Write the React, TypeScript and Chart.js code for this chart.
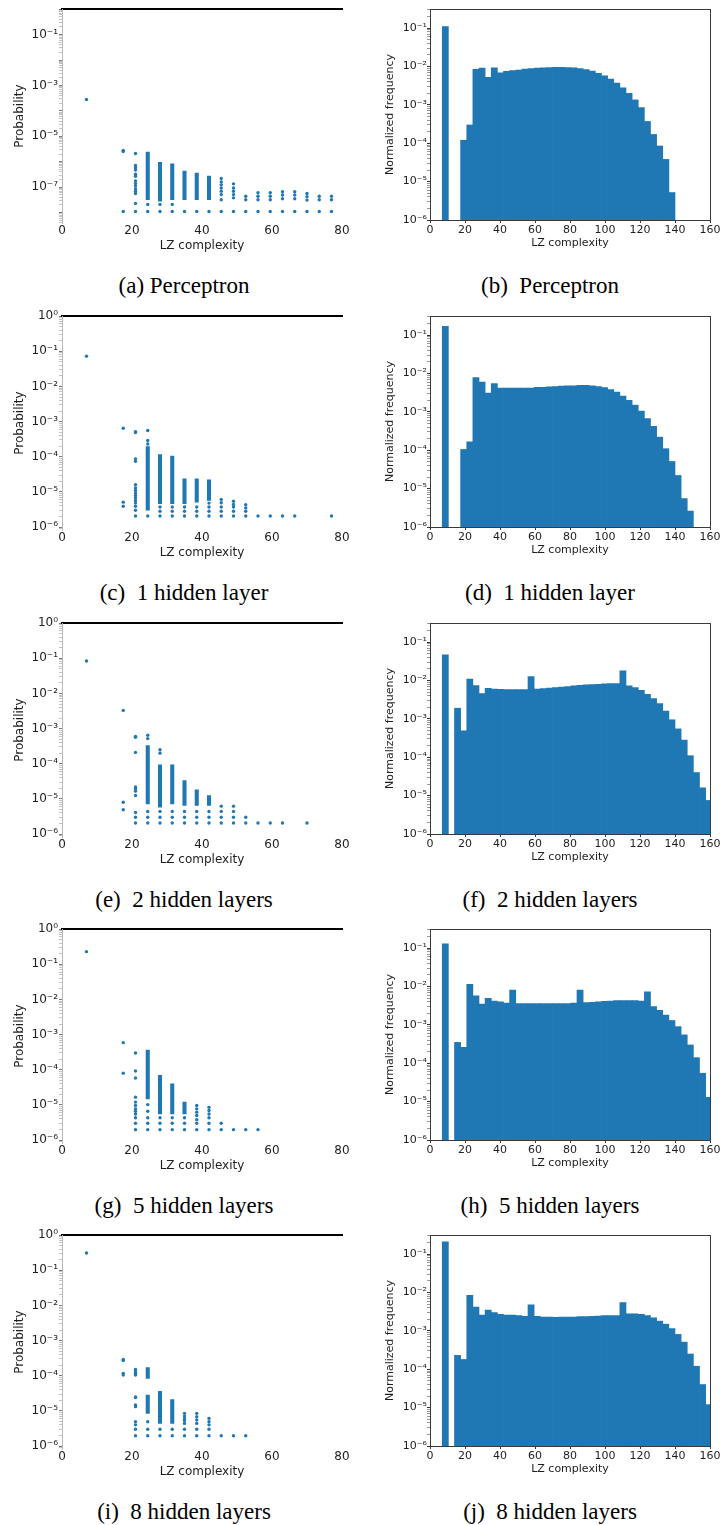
import React, { useEffect, useRef } from "react";
import { Chart, registerables } from "chart.js";

Chart.register(...registerables);

// ======================= DATA =======================
// LZ complexity values (x) of the scatter columns, probabilities per column,
// and dense vertical runs of points given as [lz, low, high].

// (a) Perceptron
const lzA = [7, 17.5, 21, 24.5, 28, 31.5, 35, 38.5, 42, 45.5, 49, 52.5, 56, 59.5, 63, 66.5, 70, 73.5, 77];
const probA = [
  [2.8e-4],
  [2.8e-6, 2.5e-6, 1.1e-8],
  [2.1e-6, 7.1e-7, 5.8e-7, 4.7e-7, 3.2e-7, 2.7e-7, 1.74e-7, 1.38e-7, 1.1e-7, 8.5e-8, 6.9e-8, 5.6e-8, 2.3e-8, 1.1e-8],
  [2.1e-8, 1.1e-8],
  [2.1e-8, 1.1e-8],
  [2.1e-8, 1.1e-8],
  [1.1e-8],
  [1.1e-8],
  [1.1e-8],
  [2.2e-7, 1.6e-7, 1.23e-7, 9.3e-8, 6.9e-8, 5.1e-8, 3.2e-8, 1.1e-8],
  [1.35e-7, 9.3e-8, 6.9e-8, 5.1e-8, 3.8e-8, 1.1e-8],
  [4.4e-8, 3.2e-8, 1.1e-8],
  [6.0e-8, 4.4e-8, 3.2e-8, 1.1e-8],
  [6.0e-8, 4.4e-8, 3.2e-8, 1.1e-8],
  [6.6e-8, 4.9e-8, 3.5e-8, 1.1e-8],
  [6.6e-8, 4.9e-8, 3.5e-8, 1.1e-8],
  [5.6e-8, 4.2e-8, 3.1e-8, 1.1e-8],
  [4.4e-8, 3.2e-8, 1.1e-8],
  [4.4e-8, 3.2e-8, 1.1e-8],
];
const rangeA = [
  [24.5, 3.2e-8, 2.4e-6],
  [28, 2.8e-8, 9.5e-7],
  [31.5, 3.2e-8, 8.3e-7],
  [35, 3.2e-8, 4.3e-7],
  [38.5, 3.2e-8, 3.6e-7],
  [42, 3.2e-8, 2.7e-7],
];

// (c) 1 hidden layer
const lzC = [7, 17.5, 21, 24.5, 28, 31.5, 35, 38.5, 42, 45.5, 49, 52.5, 56, 59.5, 63, 66.5, 77];
const probC = [
  [7.3e-2],
  [6.5e-4, 5.1e-6, 3.9e-6],
  [5.2e-4, 4.9e-4, 8.7e-5, 7.4e-5, 1.6e-5, 1.29e-5, 1.1e-5, 9.3e-6, 7.9e-6, 6.8e-6, 5.7e-6, 4.8e-6, 3.9e-6, 3.0e-6, 2.05e-6],
  [5.6e-4, 2.9e-4, 2.3e-4, 2.05e-6],
  [3.7e-6, 2.8e-6, 2.05e-6],
  [3.7e-6, 2.8e-6, 2.05e-6],
  [3.7e-6, 2.8e-6, 2.05e-6],
  [3.7e-6, 2.8e-6, 2.05e-6],
  [4.8e-6, 3.7e-6, 2.8e-6, 2.05e-6],
  [6.1e-6, 4.9e-6, 3.7e-6, 2.8e-6, 2.05e-6],
  [5.4e-6, 4.4e-6, 3.7e-6, 2.8e-6, 2.05e-6],
  [4.3e-6, 3.5e-6, 2.8e-6, 2.05e-6],
  [2.05e-6],
  [2.05e-6],
  [2.05e-6],
  [2.05e-6],
  [2.05e-6],
];
const rangeC = [
  [24.5, 3.0e-6, 1.96e-4],
  [28, 4.6e-6, 1.15e-4],
  [31.5, 4.6e-6, 1.05e-4],
  [35, 4.6e-6, 2.35e-5],
  [38.5, 5.1e-6, 2.35e-5],
  [42, 5.7e-6, 2.2e-5],
];

// (e) 2 hidden layers
const lzE = [7, 17.5, 21, 24.5, 28, 31.5, 35, 38.5, 42, 45.5, 49, 52.5, 56, 59.5, 63, 70];
const probE = [
  [8.4e-2],
  [3.3e-3, 8.0e-6, 4.9e-6],
  [6.0e-4, 5.7e-4, 2.1e-4, 2.2e-5, 1.94e-5, 1.66e-5, 1.25e-5, 4.1e-6, 3.0e-6, 2.06e-6],
  [6.5e-4, 5.2e-4, 4.4e-6, 3.0e-6, 2.06e-6],
  [2.5e-4, 2.0e-4, 4.4e-6, 3.0e-6, 2.06e-6],
  [4.4e-6, 3.0e-6, 2.06e-6],
  [4.4e-6, 3.0e-6, 2.06e-6],
  [4.4e-6, 3.0e-6, 2.06e-6],
  [4.4e-6, 3.0e-6, 2.06e-6],
  [6.2e-6, 4.4e-6, 3.0e-6, 2.06e-6],
  [6.2e-6, 4.4e-6, 3.0e-6, 2.06e-6],
  [3.0e-6, 2.06e-6],
  [2.06e-6],
  [2.06e-6],
  [2.06e-6],
  [2.06e-6],
];
const rangeE = [
  [24.5, 7.2e-6, 3.3e-4],
  [28, 5.8e-6, 9.3e-5],
  [31.5, 7.2e-6, 9.3e-5],
  [35, 6.5e-6, 3.3e-5],
  [38.5, 6.5e-6, 1.8e-5],
  [42, 6.5e-6, 1.25e-5],
];

// (g) 5 hidden layers
const lzG = [7, 17.5, 21, 24.5, 28, 31.5, 35, 38.5, 42, 45.5, 49, 52.5, 56];
const probG = [
  [0.23],
  [5.9e-4, 8.0e-5],
  [3.0e-4, 9.2e-5, 5.8e-5, 1.66e-5, 1.2e-5, 9.6e-6, 7.7e-6, 6.6e-6, 5.5e-6, 4.3e-6, 3.0e-6, 1.97e-6],
  [1.02e-5, 6.6e-6, 4.3e-6, 3.0e-6, 1.97e-6],
  [4.3e-6, 3.0e-6, 1.97e-6],
  [4.3e-6, 3.0e-6, 1.97e-6],
  [4.3e-6, 3.0e-6, 1.97e-6],
  [9.6e-6, 7.7e-6, 6.2e-6, 5.0e-6, 3.8e-6, 3.0e-6, 1.97e-6],
  [8.5e-6, 6.9e-6, 5.5e-6, 4.3e-6, 3.0e-6, 1.97e-6],
  [3.0e-6, 1.97e-6],
  [1.97e-6],
  [1.97e-6],
  [1.97e-6],
];
const rangeG = [
  [24.5, 1.48e-5, 3.6e-4],
  [28, 5.5e-6, 6.9e-5],
  [31.5, 5.5e-6, 4.0e-5],
  [35, 5.5e-6, 1.2e-5],
];

// (i) 8 hidden layers
const lzI = [7, 17.5, 21, 24.5, 28, 31.5, 35, 38.5, 42, 45.5, 49, 52.5];
const probI = [
  [0.31],
  [2.9e-4, 2.7e-4, 1.17e-4, 1.05e-4],
  [1.5e-4, 1.3e-4, 1.17e-4, 1.05e-4, 2.5e-5, 2.4e-5, 1.47e-5, 1.32e-5, 4.9e-6, 4.0e-6, 3.0e-6, 1.96e-6],
  [4.9e-6, 3.0e-6, 1.96e-6],
  [3.0e-6, 1.96e-6],
  [3.0e-6, 1.96e-6],
  [8.5e-6, 7.1e-6, 6.1e-6, 5.3e-6, 4.4e-6, 3.0e-6, 1.96e-6],
  [8.5e-6, 6.8e-6, 5.5e-6, 4.4e-6, 3.0e-6, 1.96e-6],
  [6.1e-6, 4.9e-6, 4.0e-6, 3.0e-6, 1.96e-6],
  [1.96e-6],
  [1.96e-6],
  [1.96e-6],
];
const rangeI = [
  [24.5, 8.4e-5, 1.7e-4],
  [24.5, 8.5e-6, 2.8e-5],
  [28, 4.4e-6, 3.6e-5],
  [31.5, 4.4e-6, 2.1e-5],
];

// Histograms: bins of width 3.5 in LZ complexity.
const BIN = 3.5;
const PEAK_BIN_START = 7; // the isolated lowest-complexity bin

// (b) Perceptron
const peakB = 0.11;
const histStartB = 17.5;
const histB = [
  1.2e-4, 3.0e-4, 8.5e-3, 9.1e-3, 5.2e-3, 9.3e-3, 6.9e-3, 7.5e-3, 7.9e-3, 8.1e-3,
  8.6e-3, 8.9e-3, 9.1e-3, 9.3e-3, 9.4e-3, 9.5e-3, 9.5e-3, 9.4e-3, 9.2e-3, 8.8e-3,
  8.3e-3, 7.6e-3, 6.7e-3, 5.7e-3, 4.7e-3, 3.7e-3, 2.8e-3, 2.0e-3, 1.35e-3, 8.5e-4,
  3.7e-4, 1.7e-4, 8.5e-5, 3.8e-5, 5.2e-6,
];

// (d) 1 hidden layer
const peakD = 0.17;
const histStartD = 17.5;
const histD = [
  1.05e-4, 1.66e-4, 7.9e-3, 6.0e-3, 3.1e-3, 5.5e-3, 4.2e-3, 4.2e-3, 4.2e-3, 4.2e-3,
  4.2e-3, 4.2e-3, 4.4e-3, 4.4e-3, 4.5e-3, 4.6e-3, 4.7e-3, 4.8e-3, 4.8e-3, 4.9e-3,
  4.9e-3, 4.8e-3, 4.6e-3, 4.3e-3, 3.8e-3, 3.3e-3, 2.6e-3, 2.0e-3, 1.5e-3, 1.05e-3,
  6.7e-4, 4.2e-4, 2.2e-4, 1.1e-4, 5.1e-5, 2.2e-5, 5.5e-6, 2.6e-6,
];

// (f) 2 hidden layers
const peakF = 0.047;
const histStartF = 14;
const histF = [
  1.9e-3, 4.9e-4, 1.1e-2, 7.4e-3, 4.6e-3, 6.3e-3, 6.0e-3, 5.9e-3, 5.8e-3, 5.8e-3,
  5.8e-3, 5.8e-3, 1.26e-2, 6.0e-3, 6.2e-3, 6.4e-3, 6.6e-3, 6.8e-3, 7.0e-3, 7.3e-3,
  7.5e-3, 7.7e-3, 7.9e-3, 8.0e-3, 8.2e-3, 8.3e-3, 8.3e-3, 1.78e-2, 7.3e-3, 6.6e-3,
  5.6e-3, 4.4e-3, 3.4e-3, 2.5e-3, 1.6e-3, 9.5e-4, 5.5e-4, 2.8e-4, 1.1e-4, 4.0e-5,
  1.6e-5, 7.5e-6,
];

// (h) 5 hidden layers
const peakH = 0.13;
const histStartH = 14;
const histH = [
  3.5e-4, 2.6e-4, 1.15e-2, 5.7e-3, 3.5e-3, 4.9e-3, 4.2e-3, 4.0e-3, 3.7e-3, 8.1e-3,
  3.6e-3, 3.6e-3, 3.6e-3, 3.6e-3, 3.6e-3, 3.6e-3, 3.6e-3, 3.6e-3, 3.6e-3, 3.7e-3,
  8.1e-3, 3.8e-3, 3.9e-3, 4.0e-3, 4.1e-3, 4.2e-3, 4.3e-3, 4.3e-3, 4.3e-3, 4.3e-3,
  4.2e-3, 7.3e-3, 3.0e-3, 2.4e-3, 1.8e-3, 1.3e-3, 9.0e-4, 5.5e-4, 3.0e-4, 1.4e-4,
  5.5e-5, 1.3e-5,
];

// (j) 8 hidden layers
const peakJ = 0.21;
const histStartJ = 14;
const histJ = [
  2.3e-4, 1.8e-4, 8.5e-3, 4.2e-3, 2.6e-3, 3.5e-3, 3.0e-3, 2.7e-3, 2.6e-3, 2.6e-3,
  2.5e-3, 2.4e-3, 4.8e-3, 2.4e-3, 2.3e-3, 2.3e-3, 2.25e-3, 2.3e-3, 2.3e-3, 2.3e-3,
  2.35e-3, 2.35e-3, 2.4e-3, 2.45e-3, 2.5e-3, 2.5e-3, 2.5e-3, 5.5e-3, 2.8e-3, 2.8e-3,
  2.7e-3, 2.5e-3, 2.2e-3, 1.8e-3, 1.5e-3, 1.15e-3, 8.1e-4, 5.1e-4, 2.5e-4, 1.2e-4,
  4.0e-5, 1.2e-5,
];

// Tick values and labels
const scatterXTicks = [0, 20, 40, 60, 80];
const histXTicks = [0, 20, 40, 60, 80, 100, 120, 140, 160];
const probTicksA = [1e-1, 1e-3, 1e-5, 1e-7];
const probLabelsA = ["10⁻¹", "10⁻³", "10⁻⁵", "10⁻⁷"];
const probTicks = [1, 1e-1, 1e-2, 1e-3, 1e-4, 1e-5, 1e-6];
const probLabels = ["10⁰", "10⁻¹", "10⁻²", "10⁻³", "10⁻⁴", "10⁻⁵", "10⁻⁶"];
const freqTicks = [1e-1, 1e-2, 1e-3, 1e-4, 1e-5, 1e-6];
const freqLabels = ["10⁻¹", "10⁻²", "10⁻³", "10⁻⁴", "10⁻⁵", "10⁻⁶"];

const captionsLeft = ["(a) Perceptron", "(c)  1 hidden layer", "(e)  2 hidden layers", "(g)  5 hidden layers", "(i)  8 hidden layers"];
const captionsRight = ["(b)  Perceptron", "(d)  1 hidden layer", "(f)  2 hidden layers", "(h)  5 hidden layers", "(j)  8 hidden layers"];

// ======================= STYLE / LAYOUT =======================
const BLUE = "#1f77b4";
const TEXT = "#1e1e1e";
const FRAME = "#3a3a3a";
const SANS = "'DejaVu Sans', Verdana, sans-serif";
const SERIF = "'Liberation Serif', 'Times New Roman', serif";
const ROW_TOPS = [9, 316, 623, 929, 1235];

function logTicks(minExp: number, maxExp: number) {
  const out: any[] = [];
  for (let e = Math.floor(minExp); e <= Math.ceil(maxExp); e++) {
    for (let m = 1; m <= 9; m++) {
      const v = m * Math.pow(10, e);
      const lv = Math.log10(v);
      if (lv >= minExp - 1e-9 && lv <= maxExp + 1e-9) out.push({ value: v, major: m === 1 });
    }
  }
  return out;
}

function labelFor(value: number, vals: number[], labels: string[]) {
  const lv = Math.log10(value);
  for (let i = 0; i < vals.length; i++) {
    if (Math.abs(Math.log10(vals[i]) - lv) < 1e-6) return labels[i];
  }
  return "";
}

function scatterConfig(p: any) {
  const points: any[] = [];
  p.lz.forEach((x: number, i: number) => p.prob[i].forEach((y: number) => points.push({ x, y })));
  const runs = p.ranges.map((r: number[]) => ({ x: r[0], y: [r[1], r[2]] }));
  const font = { family: SANS, size: 12 };
  return {
    type: "scatter",
    data: {
      datasets: [
        { type: "bar", data: runs, backgroundColor: BLUE, borderWidth: 0, barThickness: 3.4, xAxisID: "x", yAxisID: "y" },
        { type: "scatter", data: points, backgroundColor: BLUE, borderWidth: 0, pointRadius: 1.7, pointHoverRadius: 1.7, xAxisID: "x", yAxisID: "y" },
      ],
    },
    options: {
      animation: false,
      responsive: false,
      events: [],
      layout: { padding: { top: 8, right: 10, bottom: 0, left: 0 } },
      plugins: { legend: { display: false }, tooltip: { enabled: false } },
      scales: {
        x: {
          type: "linear", position: "bottom", min: 0, max: 80, offset: false,
          afterBuildTicks: (s: any) => { s.ticks = scatterXTicks.map((v) => ({ value: v })); },
          ticks: { autoSkip: false, maxRotation: 0, padding: 1, color: TEXT, font, callback: (v: any) => String(v) },
          grid: { display: false, drawTicks: false, offset: false },
          border: { display: false },
          title: { display: true, text: "LZ complexity", color: TEXT, font, padding: { top: 0, bottom: 10 } },
          afterFit: (s: any) => { s.height = 40; },
        },
        xTop: {
          type: "linear", position: "top", min: 0, max: 80, offset: false,
          ticks: { display: false },
          grid: { display: false, drawTicks: false, offset: false },
          border: { display: true, color: "#000", width: 2 },
          afterFit: (s: any) => { s.height = 0; },
        },
        y: {
          type: "logarithmic", position: "left", min: Math.pow(10, p.minExp), max: 1,
          afterBuildTicks: (s: any) => { s.ticks = logTicks(p.minExp, 0); },
          ticks: { autoSkip: false, padding: 1, color: TEXT, font, callback: (v: any) => labelFor(v, p.tickVals, p.tickLabels) },
          grid: {
            display: true, drawOnChartArea: false, drawTicks: true, tickLength: 3,
            tickColor: (c: any) => (c.tick && c.tick.major ? "#777" : "#c4c4c4"),
          },
          border: { display: true, color: "#b8b8b8", width: 1 },
          title: { display: true, text: "Probability", color: TEXT, font, padding: { top: 12.8, bottom: 0 } },
          afterFit: (s: any) => { s.width = 62; },
        },
      },
    },
  };
}

function histConfig(p: any) {
  const bars: any[] = [{ x: PEAK_BIN_START + BIN / 2, y: p.peak }];
  p.hist.forEach((v: number, i: number) => bars.push({ x: p.start + BIN * (i + 0.5), y: v }));
  const font = { family: SANS, size: 11 };
  const minExp = -6;
  const maxExp = -0.5;
  return {
    type: "bar",
    data: {
      datasets: [
        { data: bars, backgroundColor: BLUE, borderWidth: 0, barPercentage: 1, categoryPercentage: 1, xAxisID: "x", yAxisID: "y" },
      ],
    },
    options: {
      animation: false,
      responsive: false,
      events: [],
      layout: { padding: { top: 8, right: 12, bottom: 0, left: 0 } },
      plugins: { legend: { display: false }, tooltip: { enabled: false } },
      scales: {
        x: {
          type: "linear", position: "bottom", min: 0, max: 160, offset: false, z: 1,
          afterBuildTicks: (s: any) => { s.ticks = histXTicks.map((v) => ({ value: v })); },
          ticks: { autoSkip: false, maxRotation: 0, padding: 0.5, color: TEXT, font, callback: (v: any) => String(v) },
          grid: { display: true, offset: false, drawOnChartArea: false, drawTicks: true, tickLength: 3, tickColor: FRAME },
          border: { display: true, color: FRAME, width: 1 },
          title: { display: true, text: "LZ complexity", color: TEXT, font, padding: { top: 0, bottom: 13.4 } },
          afterFit: (s: any) => { s.height = 43; },
        },
        xTop: {
          type: "linear", position: "top", min: 0, max: 160, offset: false, z: 1,
          ticks: { display: false },
          grid: { display: false, drawTicks: false, offset: false },
          border: { display: true, color: FRAME, width: 1 },
          afterFit: (s: any) => { s.height = 0; },
        },
        y: {
          type: "logarithmic", position: "left", min: Math.pow(10, minExp), max: Math.pow(10, maxExp), z: 1,
          afterBuildTicks: (s: any) => { s.ticks = logTicks(minExp, maxExp); },
          ticks: { autoSkip: false, padding: 0, color: TEXT, font, callback: (v: any) => labelFor(v, freqTicks, freqLabels) },
          grid: {
            display: true, drawOnChartArea: false, drawTicks: true, tickLength: 3,
            tickColor: (c: any) => (c.tick && c.tick.major ? "#333" : "#999"),
          },
          border: { display: true, color: FRAME, width: 1 },
          title: { display: true, text: "Normalized frequency", color: TEXT, font, padding: { top: 23.4, bottom: 0 } },
          afterFit: (s: any) => { s.width = 70; },
        },
        yRight: {
          type: "linear", position: "right", z: 1,
          ticks: { display: false },
          grid: { display: false, drawTicks: false },
          border: { display: true, color: FRAME, width: 1 },
          afterFit: (s: any) => { s.width = 0; },
        },
      },
    },
  };
}

function ChartBox(props: { left: number; top: number; width: number; height: number; make: () => any }) {
  const ref = useRef<HTMLCanvasElement | null>(null);
  useEffect(() => {
    if (!ref.current) return;
    const chart = new Chart(ref.current, props.make());
    return () => chart.destroy();
  }, []);
  return (
    <canvas
      ref={ref}
      width={props.width}
      height={props.height}
      style={{ position: "absolute", left: props.left, top: props.top, width: props.width, height: props.height, display: "block" }}
    />
  );
}

const scatterPanels = [
  { lz: lzA, prob: probA, ranges: rangeA, minExp: -8.41, tickVals: probTicksA, tickLabels: probLabelsA },
  { lz: lzC, prob: probC, ranges: rangeC, minExp: -6.085, tickVals: probTicks, tickLabels: probLabels },
  { lz: lzE, prob: probE, ranges: rangeE, minExp: -6.085, tickVals: probTicks, tickLabels: probLabels },
  { lz: lzG, prob: probG, ranges: rangeG, minExp: -6.085, tickVals: probTicks, tickLabels: probLabels },
  { lz: lzI, prob: probI, ranges: rangeI, minExp: -6.085, tickVals: probTicks, tickLabels: probLabels },
];

const histPanels = [
  { peak: peakB, start: histStartB, hist: histB },
  { peak: peakD, start: histStartD, hist: histD },
  { peak: peakF, start: histStartF, hist: histF },
  { peak: peakH, start: histStartH, hist: histH },
  { peak: peakJ, start: histStartJ, hist: histJ },
];

const captionStyle: React.CSSProperties = {
  position: "absolute",
  transform: "translateX(-50%)",
  fontFamily: SERIF,
  fontSize: 23,
  lineHeight: "23px",
  whiteSpace: "pre",
  color: "#000",
};

export default function App() {
  return (
    <div style={{ position: "absolute", left: 0, top: 0, width: 720, height: 1525, overflow: "hidden", background: "#fff" }}>
      {ROW_TOPS.map((T, r) => (
        <React.Fragment key={r}>
          <ChartBox left={0} top={T - 8} width={352} height={262} make={() => scatterConfig(scatterPanels[r])} />
          <ChartBox left={360} top={T - 8} width={362} height={262} make={() => histConfig(histPanels[r])} />
          <div style={{ ...captionStyle, left: 184, top: T + 265 }}>{captionsLeft[r]}</div>
          <div style={{ ...captionStyle, left: 550, top: T + 265 }}>{captionsRight[r]}</div>
        </React.Fragment>
      ))}
    </div>
  );
}
